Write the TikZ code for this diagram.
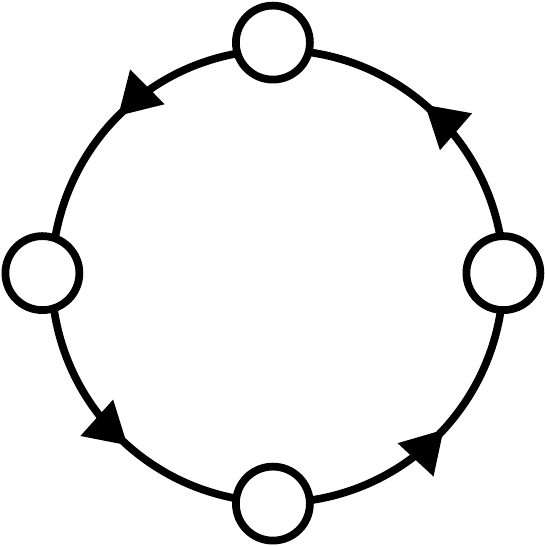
\documentclass[tikz,border=0pt]{standalone}
\usetikzlibrary{decorations.markings}
\begin{document}
\begin{tikzpicture}[x=0.75pt,y=0.75pt,
  vert/.style={circle,draw=black,line width=5.8pt,fill=white,minimum size=55.5pt,inner sep=0pt,outer sep=0pt},
  arc/.style={line width=5.8pt,postaction={decorate},
    decoration={markings,mark=at position #1 with {\fill[black] (1,0) -- (-40,24.5) -- (-40,-24.5) -- cycle;}}}]
\useasboundingbox (-272.9,-272.9) rectangle (272.1,273.1);
\node[vert] (t) at (0,230.5) {};
\node[vert] (l) at (-230.5,0) {};
\node[vert] (b) at (0,-230.5) {};
\node[vert] (r) at (230.5,0) {};
\draw[arc=0.54] (r.95.6) .. controls +(100.2:97.7) and +(-7.9:97.7) .. (t.-15.5);
\draw[arc=0.49] (t.197.65) .. controls +(190.1:95.3) and +(80.3:95.3) .. (l.70.7);
\draw[arc=0.56] (l.-72.2) .. controls +(278.1:97.0) and +(169.5:97.0) .. (b.172.1);
\draw[arc=0.53] (b.5.6) .. controls +(8.2:99.7) and +(261.4:99.7) .. (r.266.1);
\end{tikzpicture}
\end{document}
